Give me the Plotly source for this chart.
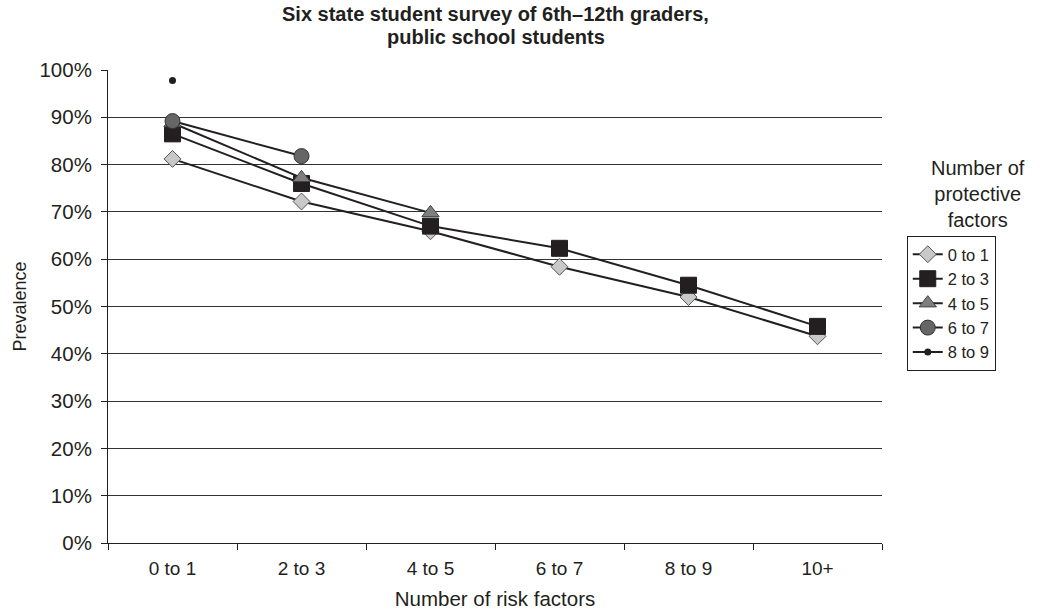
import plotly.graph_objects as go

risk_factors = ["0 to 1", "2 to 3", "4 to 5", "6 to 7", "8 to 9", "10+"]

prot_0_1 = [81.2, 72.2, 65.9, 58.4, 52.0, 43.7]
prot_2_3 = [86.5, 76.0, 67.0, 62.3, 54.5, 45.8]
prot_4_5 = [88.8, 77.2, 69.8, None, None, None]
prot_6_7 = [89.2, 81.8, None, None, None, None]
prot_8_9 = [97.8, None, None, None, None, None]

title_lines = ["Six state student survey of 6th\u201312th graders,", "public school students"]

series = [
    ("0 to 1", prot_0_1, dict(symbol="diamond", size=13, color="#c8c8c8", line=dict(color="#555555", width=1))),
    ("2 to 3", prot_2_3, dict(symbol="square", size=16, color="#231f20", line=dict(color="#231f20", width=1))),
    ("4 to 5", prot_4_5, dict(symbol="triangle-up", size=15, color="#7f7f7f", line=dict(color="#444444", width=1))),
    ("6 to 7", prot_6_7, dict(symbol="circle", size=15, color="#666666", line=dict(color="#333333", width=1))),
    ("8 to 9", prot_8_9, dict(symbol="circle", size=7, color="#231f20", line=dict(color="#231f20", width=0))),
]

fig = go.Figure()

for name, vals, marker in series:
    fig.add_trace(go.Scatter(
        x=risk_factors, y=vals, name=name, mode="lines+markers",
        line=dict(color="#231f20", width=2), marker=marker,
        connectgaps=False,
    ))

# title as two tight lines, legend title sits above the legend box
notes = [
    dict(text="<b>" + title_lines[0] + "</b>", x=0.501, y=1.118, font=dict(size=20)),
    dict(text="<b>" + title_lines[1] + "</b>", x=0.501, y=1.07, font=dict(size=20)),
    dict(text="Number of<br>protective<br>factors", x=1.124, y=0.655, yanchor="bottom", font=dict(size=20)),
]
for n in notes:
    n.setdefault("yanchor", "middle")
    n.update(xref="paper", yref="paper", xanchor="center", showarrow=False)

fig.update_layout(
    width=1045, height=610,
    margin=dict(l=108, r=163, t=70, b=67),
    paper_bgcolor="white", plot_bgcolor="white",
    font=dict(family="Liberation Sans, Arial, sans-serif", size=18, color="#231f20"),
    showlegend=True,
    legend=dict(
        x=1.032, xanchor="left", y=0.649, yanchor="top",
        bordercolor="#231f20", borderwidth=1, bgcolor="white",
        font=dict(size=16.5), tracegroupgap=0,
    ),
    annotations=notes,
)

fig.update_xaxes(
    type="category", range=[-0.5, 5.5], tickson="boundaries",
    ticks="outside", ticklen=6, tickcolor="#231f20",
    tickfont=dict(size=19), ticklabelstandoff=8,
    showline=True, linecolor="#231f20", linewidth=1, showgrid=False,
    automargin=False,
    title=dict(text="Number of risk factors", standoff=14, font=dict(size=20.5)),
)
fig.update_yaxes(
    range=[0, 100], dtick=10, ticksuffix="%",
    ticks="outside", ticklen=6, tickcolor="#231f20",
    tickfont=dict(size=20.5), ticklabelstandoff=5,
    showline=True, linecolor="#231f20", linewidth=1,
    showgrid=True, gridcolor="#333333", gridwidth=1, zeroline=False,
    automargin=False,
    title=dict(text="Prevalence", standoff=8, font=dict(size=18)),
)

# drop the default body margin so the figure fills the window exactly
fig.write_html("out.html", config={"displayModeBar": False},
               post_script="document.body.style.margin='0';")
